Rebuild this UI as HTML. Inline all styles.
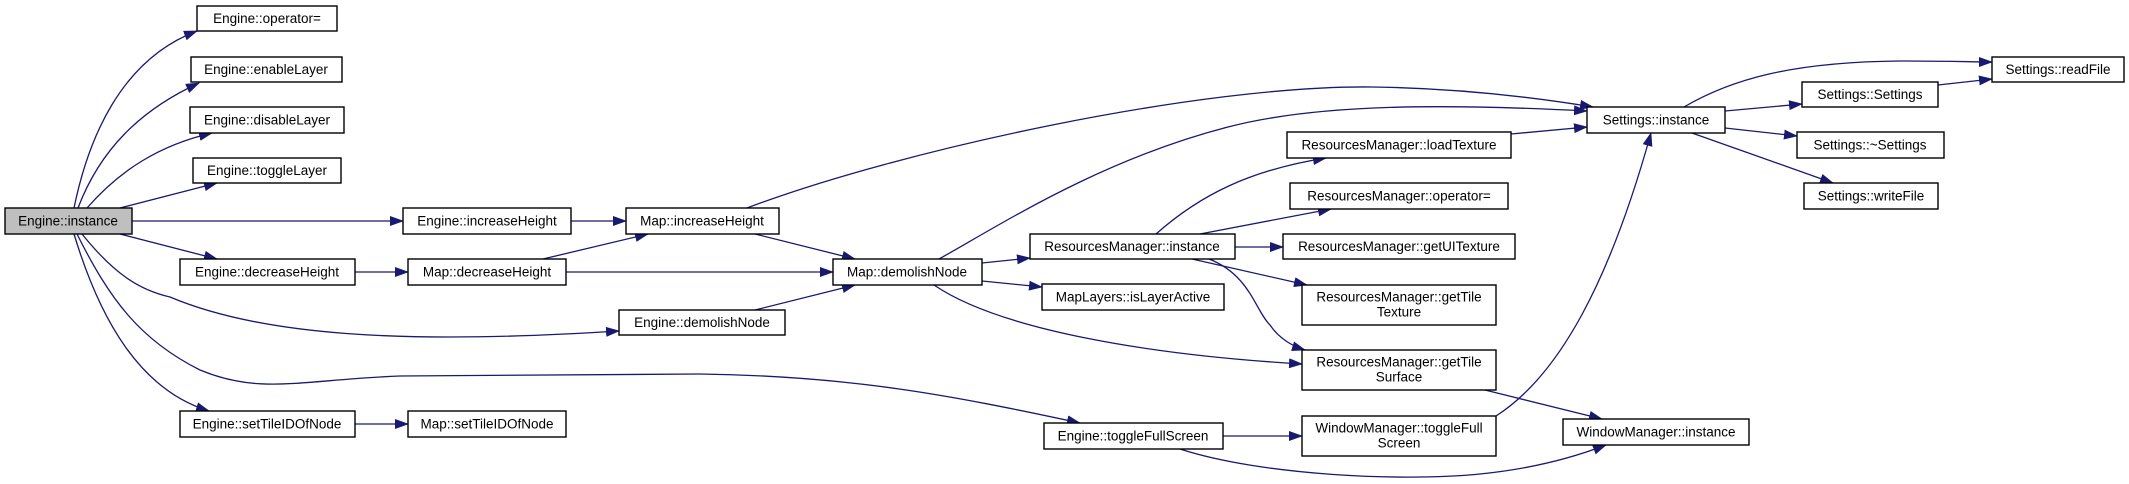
<!DOCTYPE html>
<html><head><meta charset="utf-8"><style>
html,body{margin:0;padding:0;background:#fff;}
svg{display:block;}
text{font-family:"Liberation Sans","DejaVu Sans",sans-serif;font-size:13.5px;fill:#000;text-anchor:middle;dominant-baseline:central;}
.n{fill:#fff;stroke:#000;stroke-width:1.4;}
.e{fill:none;stroke:#191970;stroke-width:1.3;marker-end:url(#a);}
</style></head><body>
<svg width="2129" height="484" viewBox="0 0 2129 484" xmlns="http://www.w3.org/2000/svg">
<defs><marker id="a" markerWidth="14" markerHeight="10" refX="13" refY="5" orient="auto" markerUnits="userSpaceOnUse"><path d="M0,0 L14,5 L0,10 z" fill="#191970"/></marker></defs>

<path class="e" d="M74,208 C88,140 120,60 197,31"/>
<path class="e" d="M78,208 C100,150 140,110 199,83"/>
<path class="e" d="M87,208 C120,170 160,145 212,133"/>
<path class="e" d="M120,208 L217,183"/>
<path class="e" d="M132,221 L403,221"/>
<path class="e" d="M120,234 L217,259"/>
<path class="e" d="M82,234 C115,275 140,290 170,297 C260,335 400,345 619,331"/>
<path class="e" d="M77,234 C110,300 140,340 200,370 C260,395 300,380 400,376 L700,374 C850,376 950,395 1080,423"/>
<path class="e" d="M74,234 C100,320 140,390 209,411"/>
<path class="e" d="M355,272 L408,272"/>
<path class="e" d="M355,424 L408,424"/>
<path class="e" d="M571,221 L626,221"/>
<path class="e" d="M543,259 L648,234"/>
<path class="e" d="M566,272 L833,272"/>
<path class="e" d="M755,234 L855,259"/>
<path class="e" d="M755,310 L855,285"/>
<path class="e" d="M747,208 C900,150 1200,85 1372,87 C1450,88 1520,95 1593,107"/>
<path class="e" d="M939,259 C1000,225 1100,160 1228,127 C1320,103 1450,104 1587,111"/>
<path class="e" d="M982,263 L1030,258"/>
<path class="e" d="M982,281 L1042,287"/>
<path class="e" d="M934,285 C1000,330 1150,355 1302,364"/>
<path class="e" d="M1156,234 C1200,195 1250,170 1326,158"/>
<path class="e" d="M1200,234 L1331,209"/>
<path class="e" d="M1235,247 L1283,247"/>
<path class="e" d="M1192,259 L1307,285"/>
<path class="e" d="M1209,259 C1250,275 1255,310 1270,325 C1280,340 1295,347 1305,350"/>
<path class="e" d="M1223,436 L1302,436"/>
<path class="e" d="M1180,449 C1260,475 1400,482 1480,474 C1540,468 1580,455 1606,445"/>
<path class="e" d="M1485,390 L1602,419"/>
<path class="e" d="M1496,416 C1560,375 1610,280 1651,133"/>
<path class="e" d="M1511,134 L1587,127"/>
<path class="e" d="M1684,107 C1730,80 1790,62 1900,61 C1950,61 1975,62 1992,62"/>
<path class="e" d="M1938,85 L1992,79"/>
<path class="e" d="M1725,111 L1802,104"/>
<path class="e" d="M1725,128 L1797,136"/>
<path class="e" d="M1692,133 L1833,183"/>

<rect x="5" y="208" width="127" height="26" fill="#bfbfbf" stroke="#000" stroke-width="1.4"/><text x="68" y="221">Engine::instance</text>
<rect class="n" x="197" y="6" width="140" height="25"/><text x="267" y="18.5">Engine::operator=</text>
<rect class="n" x="191" y="57" width="151" height="25"/><text x="266" y="69.5">Engine::enableLayer</text>
<rect class="n" x="190" y="107" width="154" height="26"/><text x="267" y="120">Engine::disableLayer</text>
<rect class="n" x="193" y="158" width="148" height="25"/><text x="267" y="170.5">Engine::toggleLayer</text>
<rect class="n" x="403" y="208" width="168" height="26"/><text x="487" y="221">Engine::increaseHeight</text>
<rect class="n" x="626" y="208" width="153" height="26"/><text x="702" y="221">Map::increaseHeight</text>
<rect class="n" x="180" y="259" width="175" height="26"/><text x="267" y="272">Engine::decreaseHeight</text>
<rect class="n" x="408" y="259" width="158" height="26"/><text x="487" y="272">Map::decreaseHeight</text>
<rect class="n" x="619" y="310" width="166" height="25"/><text x="702" y="322.5">Engine::demolishNode</text>
<rect class="n" x="180" y="411" width="175" height="26"/><text x="267" y="424">Engine::setTileIDOfNode</text>
<rect class="n" x="408" y="411" width="158" height="26"/><text x="487" y="424">Map::setTileIDOfNode</text>
<rect class="n" x="833" y="259" width="149" height="26"/><text x="907" y="272">Map::demolishNode</text>
<rect class="n" x="1030" y="234" width="205" height="25"/><text x="1132" y="246.5">ResourcesManager::instance</text>
<rect class="n" x="1042" y="284" width="182" height="26"/><text x="1133" y="297">MapLayers::isLayerActive</text>
<rect class="n" x="1287" y="132" width="224" height="26"/><text x="1399" y="145">ResourcesManager::loadTexture</text>
<rect class="n" x="1290" y="183" width="218" height="26"/><text x="1399" y="196">ResourcesManager::operator=</text>
<rect class="n" x="1283" y="234" width="232" height="25"/><text x="1399" y="246.5">ResourcesManager::getUITexture</text>
<rect class="n" x="1302" y="285" width="194" height="40"/><text x="1399" y="297">ResourcesManager::getTile</text><text x="1399" y="312">Texture</text>
<rect class="n" x="1302" y="350" width="194" height="40"/><text x="1399" y="362">ResourcesManager::getTile</text><text x="1399" y="377">Surface</text>
<rect class="n" x="1044" y="423" width="179" height="26"/><text x="1133" y="436">Engine::toggleFullScreen</text>
<rect class="n" x="1302" y="416" width="194" height="40"/><text x="1399" y="428">WindowManager::toggleFull</text><text x="1399" y="443">Screen</text>
<rect class="n" x="1587" y="107" width="138" height="26"/><text x="1656" y="120">Settings::instance</text>
<rect class="n" x="1992" y="57" width="132" height="25"/><text x="2058" y="69.5">Settings::readFile</text>
<rect class="n" x="1802" y="82" width="136" height="25"/><text x="1870" y="94.5">Settings::Settings</text>
<rect class="n" x="1797" y="132" width="147" height="26"/><text x="1870" y="145">Settings::~Settings</text>
<rect class="n" x="1804" y="183" width="134" height="26"/><text x="1871" y="196">Settings::writeFile</text>
<rect class="n" x="1563" y="419" width="186" height="26"/><text x="1656" y="432">WindowManager::instance</text>
</svg>
</body></html>
